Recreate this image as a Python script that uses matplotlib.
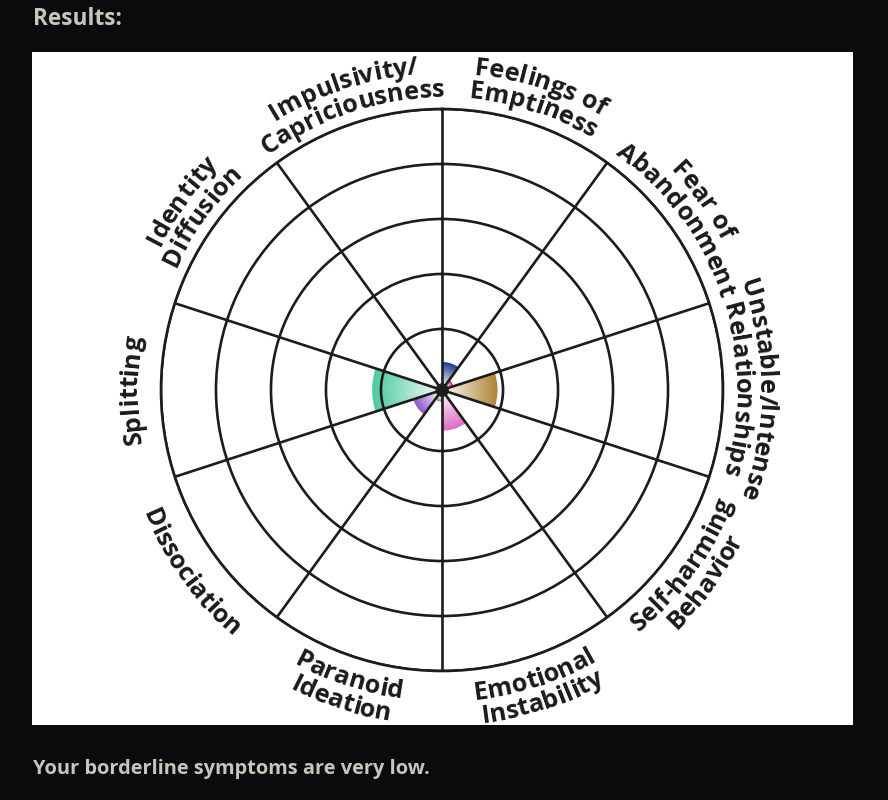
import numpy as np
import matplotlib
matplotlib.use("Agg")
import matplotlib.pyplot as plt
from matplotlib import colors as mcolors
from matplotlib.font_manager import FontProperties, findfont
from matplotlib.ft2font import FT2Font
from matplotlib.patches import Rectangle

# categories clockwise from the top, each split into label lines
labels = [
    ["Feelings of", "Emptiness"],
    ["Fear of", "Abandonment"],
    ["Unstable/Intense", "Relationships"],
    ["Self-harming", "Behavior"],
    ["Emotional", "Instability"],
    ["Paranoid", "Ideation"],
    ["Dissociation"],
    ["Splitting"],
    ["Identity", "Diffusion"],
    ["Impulsivity/", "Capriciousness"],
]
scores = [0.40, 0.11, 0.90, 0.0, 0.63, 0.10, 0.44, 1.16, 0.0, 0.0]
wedge_colors = ["#1e3c8c", "#e0287c", "#b0863a", "#999999", "#dc6cc6",
                "#968880", "#8c58cc", "#4ccaa0", "#999999", "#999999"]
rings = [1, 2, 3, 4, 5]

W, H, DPI = 888, 800, 100
BG = "#0b0b0d"
CX, CY, R = 442, 390, 281          # centre and outer radius in pixels
RO = -0.11                          # radial origin offset (small hole at centre)

fig = plt.figure(figsize=(W / DPI, H / DPI), dpi=DPI, facecolor=BG)

# white card
fig.patches.append(Rectangle((32 / W, 1 - 725 / H), (853 - 32) / W, (725 - 52) / H,
                             transform=fig.transFigure, facecolor="white",
                             edgecolor="none", zorder=-5))

fig.text(33 / W, 1 - 25 / H, "Results:", va="baseline", ha="left",
         family="Open Sans", weight="bold", size=16.3, color="#c9c4bc")
fig.text(33 / W, 1 - 774 / H, "Your borderline symptoms are very low.",
         va="baseline", ha="left",
         family="Open Sans", weight="bold", size=14.4, color="#c9c4bc")

ax = fig.add_axes([(CX - R) / W, (H - CY - R) / H, 2 * R / W, 2 * R / H],
                  projection="polar", zorder=2)
ax.set_theta_zero_location("N")
ax.set_theta_direction(-1)
ax.set_ylim(0, 5)
ax.set_rorigin(RO)
ax.set_facecolor("white")

n = len(scores)
width = 2 * np.pi / n
centers = np.arange(n) * width + width / 2

# radial gradient wedges: light at the centre, full colour at the edge
steps = 40
for th, val, col in zip(centers, scores, wedge_colors):
    if val <= 0:
        continue
    base = np.array(mcolors.to_rgb(col))
    for k in range(steps, 0, -1):
        f = 0.12 + 0.88 * k / steps
        c = 1 - f * (1 - base)
        ax.bar(th, val * k / steps, width=width, bottom=0, color=c,
               linewidth=0, antialiased=True, zorder=1)

line_col = "#1c1c1c"
ax.set_xticks(np.arange(n) * width)
ax.set_xticklabels([])
ax.set_yticks(rings)
ax.set_yticklabels([])
ax.tick_params(length=0)
ax.grid(True, color=line_col, linewidth=1.9)
ax.set_axisbelow(False)
ax.spines["polar"].set_color(line_col)
ax.spines["polar"].set_linewidth(1.9)
if "inner" in ax.spines:
    ax.spines["inner"].set_visible(False)
ax.plot(0.5, 0.5, "o", color=line_col, ms=8, transform=ax.transAxes,
        zorder=5, clip_on=False)

# curved labels
FONT = FontProperties(family="Open Sans", weight="bold", size=18.3)
ft = FT2Font(findfont(FONT))
ft.set_size(FONT.get_size_in_points(), DPI)


def advances(s):
    out = []
    for ch in s:
        g = ft.load_char(ord(ch))
        out.append(g.linearHoriAdvance / 65536)
    return np.array(out)


def px_to_r(px):
    return RO + px * (5 - RO) / R


RC = 314      # centre of the label band
CAP = 18.5
LH = 24


def curved(line, theta_c, r_base, flip):
    adv = advances(line)
    total = adv.sum()
    pos = np.cumsum(adv) - adv / 2
    for ch, s in zip(line, pos):
        off = (s - total / 2) / r_base
        th = theta_c - off if flip else theta_c + off
        deg = np.degrees(th)
        rot = 180 - deg if flip else -deg
        ax.text(th, px_to_r(r_base), ch, rotation=rot, rotation_mode="anchor",
                ha="center", va="baseline", fontproperties=FONT,
                color="#1a1a1a", clip_on=False)


for th, lines in zip(centers, labels):
    deg = np.degrees(th)
    flip = 90 < deg < 270
    m = len(lines)
    for j, line in enumerate(lines):
        if flip:
            rb = RC + CAP / 2 + (j - (m - 1) / 2) * LH
        else:
            rb = RC - CAP / 2 + ((m - 1) / 2 - j) * LH
        curved(line, th, rb, flip)

fig.savefig("out.png", dpi=DPI, facecolor=BG)
